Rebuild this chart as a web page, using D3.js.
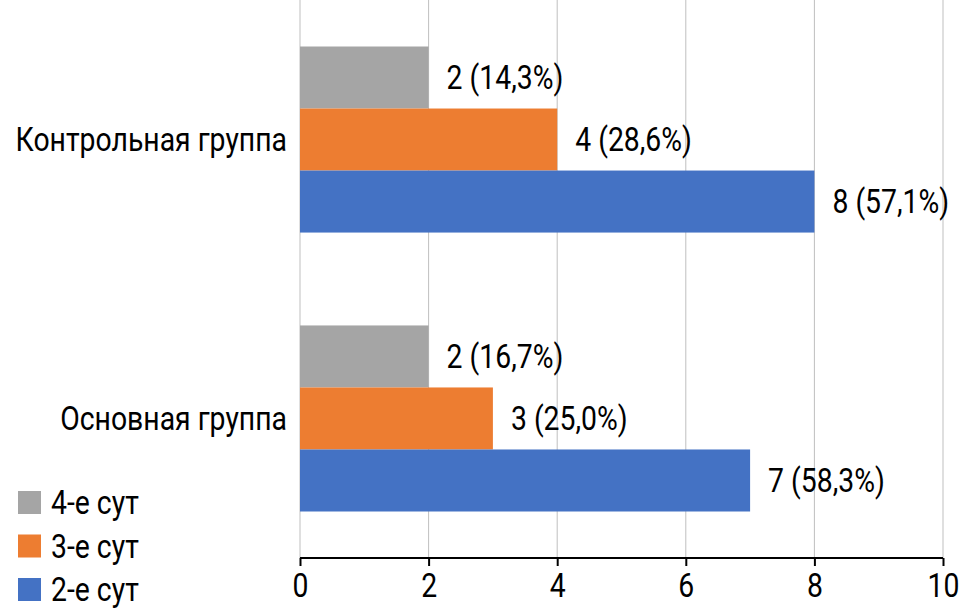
<!DOCTYPE html>
<html>
<head>
<meta charset="utf-8">
<script src="https://cdn.jsdelivr.net/npm/d3@7"></script>
<style>
  body { margin: 0; background: #fff; }
  text { font-family: Roboto, "DejaVu Sans Condensed", sans-serif; fill: #000; }
</style>
</head>
<body>
<script>
// data
var groups = ["Контрольная группа", "Основная группа"];
var series = ["4-е сут", "3-е сут", "2-е сут"];
var colors = ["#a5a5a5", "#ed7d31", "#4472c4"];
var controlValues = [2, 4, 8];
var mainValues = [2, 3, 7];
var controlLabels = ["2 (14,3%)", "4 (28,6%)", "8 (57,1%)"];
var mainLabels = ["2 (16,7%)", "3 (25,0%)", "7 (58,3%)"];
var xTicks = [0, 2, 4, 6, 8, 10];

var svgWidth = 980, svgHeight = 612;
var margin = { top: 0, right: 37, bottom: 54, left: 300 };
var width = svgWidth - margin.left - margin.right;
var height = svgHeight - margin.top - margin.bottom;
var fontSize = 33;
var squeeze = 0.86; // narrow the font horizontally (reference uses a condensed face)

var svg = d3.select("body").append("svg")
  .attr("width", svgWidth)
  .attr("height", svgHeight);

var chartGroup = svg.append("g")
  .attr("transform", `translate(${margin.left}, ${margin.top})`);

var rows = [
  { group: groups[0], values: controlValues, labels: controlLabels },
  { group: groups[1], values: mainValues, labels: mainLabels }
];

var xScale = d3.scaleLinear().domain([0, 10]).range([0, width]);
var yScale = d3.scaleBand().domain(groups).range([0, height]).paddingInner(0.333).paddingOuter(0.1667);
var ySub = d3.scaleBand().domain(series).range([0, yScale.bandwidth()]);

// gridlines
chartGroup.selectAll(".grid")
  .data(xTicks)
  .enter()
  .append("line")
  .attr("x1", d => xScale(d))
  .attr("x2", d => xScale(d))
  .attr("y1", 0)
  .attr("y2", height)
  .attr("stroke", "#bfbfbf")
  .attr("stroke-width", 1);

// bars
var rowGroups = chartGroup.selectAll(".row")
  .data(rows)
  .enter()
  .append("g")
  .attr("transform", d => `translate(0, ${yScale(d.group)})`);

rowGroups.selectAll("rect")
  .data(d => d.values.map((v, i) => ({ v: v, s: series[i], c: colors[i] })))
  .enter()
  .append("rect")
  .attr("x", 0)
  .attr("y", d => ySub(d.s))
  .attr("width", d => xScale(d.v))
  .attr("height", ySub.bandwidth())
  .attr("fill", d => d.c);

rowGroups.selectAll(".val")
  .data(d => d.values.map((v, i) => ({ v: v, s: series[i], label: d.labels[i] })))
  .enter()
  .append("text")
  .attr("transform", d => `translate(${xScale(d.v) + 18}, ${ySub(d.s) + ySub.bandwidth() / 2}) scale(${squeeze}, 1)`)
  .attr("dy", "0.36em")
  .attr("font-size", fontSize)
  .text(d => d.label);

// category labels
chartGroup.selectAll(".cat")
  .data(groups)
  .enter()
  .append("text")
  .attr("transform", d => `translate(-13, ${yScale(d) + yScale.bandwidth() / 2}) scale(${squeeze}, 1)`)
  .attr("dy", "0.36em")
  .attr("text-anchor", "end")
  .attr("font-size", fontSize)
  .text(d => d);

// x axis
var xAxis = d3.axisBottom(xScale).tickValues(xTicks).tickSize(8).tickPadding(8);
var axisG = chartGroup.append("g")
  .attr("transform", `translate(0, ${height})`)
  .call(xAxis);
axisG.select(".domain").attr("stroke", "#000").attr("stroke-width", 2).attr("d", `M0,0H${width}`);
axisG.selectAll(".tick line").attr("stroke", "#000").attr("stroke-width", 2);
axisG.selectAll(".tick text")
  .attr("font-size", fontSize)
  .attr("font-family", "Roboto, 'DejaVu Sans Condensed', sans-serif")
  .attr("fill", "#000")
  .attr("transform", `scale(${squeeze}, 1)`);

// legend
var legend = svg.append("g").attr("transform", "translate(18, 491)");
var legendItems = legend.selectAll("g")
  .data(series)
  .enter()
  .append("g")
  .attr("transform", (d, i) => `translate(0, ${i * 43.5})`);
legendItems.append("rect")
  .attr("width", 23)
  .attr("height", 23)
  .attr("fill", (d, i) => colors[i]);
legendItems.append("text")
  .attr("transform", `translate(33, 11.5) scale(${squeeze}, 1)`)
  .attr("dy", "0.36em")
  .attr("font-size", fontSize)
  .text(d => d);
</script>
</body>
</html>
